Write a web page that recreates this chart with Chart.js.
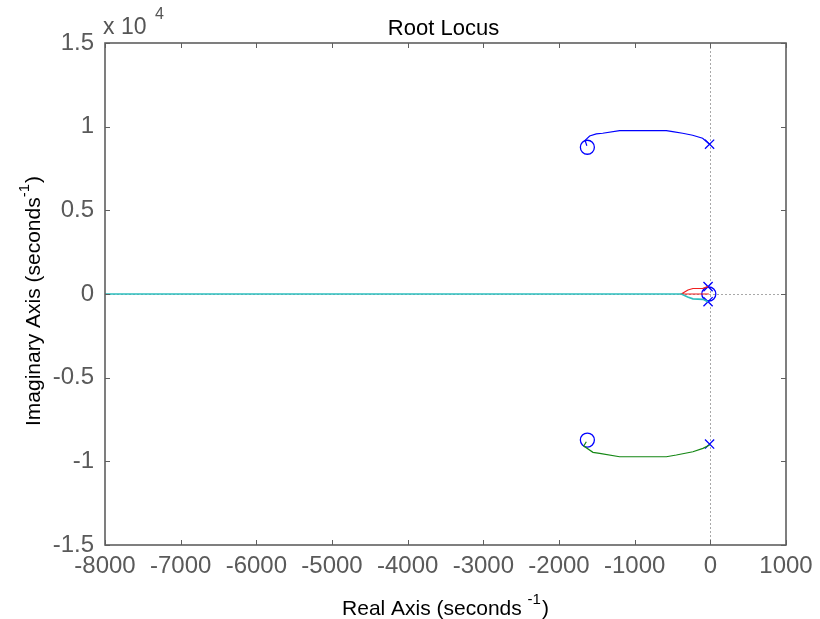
<!DOCTYPE html>
<html>
<head>
<meta charset="utf-8">
<script src="https://cdn.jsdelivr.net/npm/chart.js@4.4.1/dist/chart.umd.min.js"></script>
<style>
  html, body { margin: 0; padding: 0; background: #fff; }
  #wrap { width: 820px; height: 619px; }
</style>
</head>
<body>
<div id="wrap"><canvas id="locus" width="820" height="619"></canvas></div>
<script>
// tick values and their printed labels (imag axis is shown in units of 1e4)
const xTickValues = [-8000, -7000, -6000, -5000, -4000, -3000, -2000, -1000, 0, 1000];
const yTickValues = [-15000, -10000, -5000, 0, 5000, 10000, 15000];
const yTickLabels = ['-1.5', '-1', '-0.5', '0', '0.5', '1', '1.5'];

// upper complex branch (blue): pole -> zero
const upperRe = [-10, -102, -234, -366, -498, -581, -1199, -1423, -1507, -1595, -1655, -1632];
const upperIm = [8950, 9307, 9486, 9605, 9701, 9761, 9761, 9605, 9564, 9444, 9180, 8860];

// lower complex branch (green)
const lowerRe = [-9, -98, -230, -449, -581, -1199, -1463, -1551, -1673, -1639];
const lowerIm = [-9026, -9223, -9426, -9623, -9725, -9725, -9522, -9462, -9085, -8828];

// near-origin branches: red goes to the zero at the origin, cyan runs off along the real axis
const redRe = [-30, -98, -230, -296, -383, -20];
const redIm = [440, 340, 330, 240, 0, 0];
const cyanRe = [-30, -98, -230, -300, -383, -8000];
const cyanIm = [-460, -320, -290, -180, 0, 0];

// open-loop poles (x) and zeros (o)
const polesRe = [-10, -10, -30, -30];
const polesIm = [8950, -8966, 440, -460];
const zerosRe = [-1625, -1625, -20];
const zerosIm = [8770, -8727, 0];

const FONT = '"Liberation Sans", Arial, sans-serif';
const FRAME = '#5f5f5f';

const pts = (re, im) => re.map((r, i) => ({ x: r, y: im[i] }));

const branch = (re, im, color, w) => ({
  data: pts(re, im),
  showLine: true,
  borderColor: color,
  borderWidth: w,
  pointRadius: 0,
  fill: false,
});

const markers = (re, im, style, r) => ({
  data: pts(re, im),
  showLine: false,
  pointStyle: style,
  pointRadius: r,
  pointBorderColor: 'rgb(0,0,255)',
  pointBackgroundColor: 'rgba(0,0,0,0)',
  pointBorderWidth: 1.3,
});

// dotted zero lines, box frame with inward ticks, titles with superscripts
const matlabAxes = {
  id: 'matlabAxes',
  beforeDatasetsDraw(chart) {
    const { ctx, chartArea: a, scales: { x, y } } = chart;
    ctx.save();
    ctx.strokeStyle = '#a8a8a8';
    ctx.lineWidth = 1;
    ctx.setLineDash([2, 2]);
    const x0 = Math.round(x.getPixelForValue(0)) + 0.5;
    const y0 = Math.round(y.getPixelForValue(0)) + 0.5;
    ctx.beginPath();
    ctx.moveTo(x0, a.top); ctx.lineTo(x0, a.bottom);
    ctx.moveTo(a.left, y0); ctx.lineTo(a.right, y0);
    ctx.stroke();
    ctx.restore();
  },
  afterDraw(chart) {
    const { ctx, chartArea: a, scales: { x, y } } = chart;
    ctx.save();
    ctx.strokeStyle = FRAME;
    ctx.lineWidth = 1.6;
    ctx.strokeRect(a.left, a.top, a.right - a.left, a.bottom - a.top);
    const t = 5;
    ctx.lineWidth = 1;
    ctx.beginPath();
    xTickValues.forEach(v => {
      const px = Math.round(x.getPixelForValue(v)) + 0.5;
      ctx.moveTo(px, a.bottom); ctx.lineTo(px, a.bottom - t);
      ctx.moveTo(px, a.top); ctx.lineTo(px, a.top + t);
    });
    yTickValues.forEach(v => {
      const py = Math.round(y.getPixelForValue(v)) + 0.5;
      ctx.moveTo(a.left, py); ctx.lineTo(a.left + t, py);
      ctx.moveTo(a.right, py); ctx.lineTo(a.right - t, py);
    });
    ctx.stroke();

    // exponent label above the imag axis
    ctx.fillStyle = '#555';
    ctx.textBaseline = 'alphabetic';
    ctx.textAlign = 'left';
    ctx.font = '23px ' + FONT;
    ctx.fillText('x 10', a.left - 2, 34);
    ctx.font = '16px ' + FONT;
    ctx.fillText('4', a.left + 50, 19);

    // chart title
    ctx.fillStyle = '#000';
    ctx.textAlign = 'center';
    ctx.font = '22px ' + FONT;
    ctx.fillText('Root Locus', (a.left + a.right) / 2 - 2, 35);
    ctx.textAlign = 'left';

    // axis titles
    const drawTitle = (main, cx, cy) => {
      ctx.font = '21px ' + FONT;
      const w1 = ctx.measureText(main).width;
      ctx.font = '15px ' + FONT;
      const w2 = ctx.measureText('-1').width;
      ctx.font = '21px ' + FONT;
      const w3 = ctx.measureText(')').width;
      let sx = cx - (w1 + w2 + w3 + 1) / 2;
      ctx.fillText(main, sx, cy);
      ctx.font = '15px ' + FONT;
      ctx.fillText('-1', sx + w1, cy - 11);
      ctx.font = '21px ' + FONT;
      ctx.fillText(')', sx + w1 + w2 + 1, cy);
    };
    drawTitle('Real Axis (seconds ', (a.left + a.right) / 2, 615);
    ctx.translate(40, (a.top + a.bottom) / 2 + 7);
    ctx.rotate(-Math.PI / 2);
    drawTitle('Imaginary Axis (seconds', 0, 0);
    ctx.restore();
  },
};

new Chart(document.getElementById('locus'), {
  type: 'scatter',
  data: {
    datasets: [
      branch(cyanRe, cyanIm, 'rgb(45,190,190)', 1.6),
      branch(redRe, redIm, 'rgb(240,30,30)', 1.2),
      branch(upperRe, upperIm, 'rgb(0,0,255)', 1.2),
      branch(lowerRe, lowerIm, 'rgb(20,135,20)', 1.2),
      markers(polesRe, polesIm, 'crossRot', 6.5),
      markers(zerosRe, zerosIm, 'circle', 7),
    ],
  },
  options: {
    responsive: false,
    animation: false,
    layout: { padding: { left: 0, right: 34, top: 43, bottom: 0 } },
    plugins: {
      legend: { display: false },
      tooltip: { enabled: false },
      title: { display: false },
    },
    scales: {
      x: {
        type: 'linear',
        min: -8000,
        max: 1000,
        afterBuildTicks: s => { s.ticks = xTickValues.map(v => ({ value: v })); },
        afterFit: s => { s.height = 74; },
        grid: { display: false, drawTicks: false },
        border: { display: false },
        ticks: {
          color: '#5a5a5a',
          font: { family: FONT, size: 24 },
          padding: 7,
          maxRotation: 0,
          callback: v => String(v),
        },
      },
      y: {
        type: 'linear',
        min: -15000,
        max: 15000,
        afterBuildTicks: s => { s.ticks = yTickValues.map(v => ({ value: v })); },
        afterFit: s => { s.width = 105; },
        grid: { display: false, drawTicks: false },
        border: { display: false },
        ticks: {
          color: '#5a5a5a',
          font: { family: FONT, size: 24 },
          padding: 11,
          callback: v => yTickLabels[yTickValues.indexOf(v)],
        },
      },
    },
  },
  plugins: [matlabAxes],
});
</script>
</body>
</html>
